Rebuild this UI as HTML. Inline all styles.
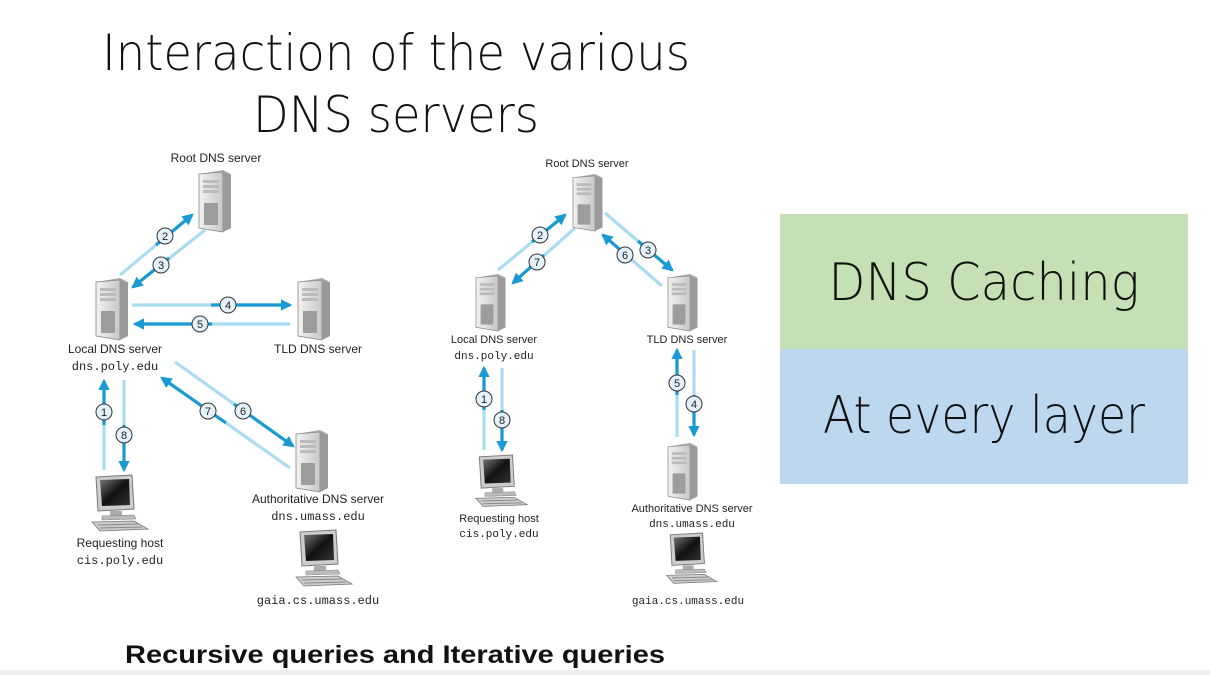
<!DOCTYPE html>
<html><head><meta charset="utf-8"><style>
html,body{margin:0;padding:0;background:#fff;width:1210px;height:675px;overflow:hidden}
svg{display:block}
.lt{font-family:"DejaVu Sans ExtraLight","DejaVu Sans Light","Liberation Sans",sans-serif}
</style></head><body>
<svg width="1210" height="675" viewBox="0 0 1210 675" xmlns="http://www.w3.org/2000/svg" font-family="Liberation Sans, sans-serif">
<defs>
<marker id="ah" viewBox="0 0 10 10" refX="8" refY="5" markerWidth="3.6" markerHeight="3.6" orient="auto" markerUnits="strokeWidth">
<path d="M0,0 L10,5 L0,10 z" fill="#1a9ad3"/></marker>
<linearGradient id="sv" x1="0" x2="1" y1="0" y2="0"><stop offset="0" stop-color="#f2f2f2"/><stop offset="1" stop-color="#c8c8c8"/></linearGradient>
<linearGradient id="scr" x1="0" y1="0" x2="1" y2="1"><stop offset="0" stop-color="#777"/><stop offset="0.5" stop-color="#111"/><stop offset="1" stop-color="#333"/></linearGradient>
<g id="srv">
<polygon points="0,4 24,0 32,4 32,58 24,62 0,58" fill="#aaa"/>
<polygon points="0,4 24,2 24,62 0,58" fill="url(#sv)" stroke="#888" stroke-width="0.8"/>
<polygon points="24,2 32,5 32,58 24,62" fill="#9a9a9a"/>
<rect x="4" y="10" width="16" height="3" fill="#bbb"/><rect x="4" y="15" width="16" height="3" fill="#bbb"/><rect x="4" y="20" width="16" height="3" fill="#bbb"/>
<rect x="5" y="33" width="14" height="22" fill="#9d9d9d"/>
</g>
<g id="pc">
<polygon points="8,2 44,0 46,34 10,36" fill="#ccc" stroke="#777" stroke-width="1"/>
<polygon points="12,5 41,4 42,30 14,31" fill="url(#scr)"/>
<rect x="22" y="36" width="12" height="5" fill="#aaa"/>
<polygon points="14,41 46,40 48,44 14,45" fill="#bbb" stroke="#888" stroke-width=".6"/>
<polygon points="4,47 46,46 60,54 12,56" fill="#ccc" stroke="#777" stroke-width=".8"/>
<line x1="10" y1="50" x2="50" y2="49" stroke="#888"/><line x1="12" y1="53" x2="54" y2="52" stroke="#888"/>
</g>
</defs>

<text class="lt" x="396" y="70" font-size="50" text-anchor="middle" fill="#111" textLength="588" lengthAdjust="spacingAndGlyphs">Interaction of the various</text>
<text class="lt" x="396" y="132" font-size="50" text-anchor="middle" fill="#111" textLength="286" lengthAdjust="spacingAndGlyphs">DNS servers</text>

<g stroke-linecap="butt" fill="none" stroke-width="3.2">
<line x1="120" y1="275" x2="192" y2="215" stroke="#a9dcf0"/><line x1="156" y1="245" x2="192" y2="215" stroke="#1a9ad3" marker-end="url(#ah)"/>
<line x1="205" y1="230" x2="133" y2="287" stroke="#a9dcf0"/><line x1="169" y1="258" x2="133" y2="287" stroke="#1a9ad3" marker-end="url(#ah)"/>
<line x1="132" y1="305" x2="290" y2="305" stroke="#a9dcf0"/><line x1="211" y1="305" x2="290" y2="305" stroke="#1a9ad3" marker-end="url(#ah)"/>
<line x1="290" y1="324" x2="135" y2="324" stroke="#a9dcf0"/><line x1="212" y1="324" x2="135" y2="324" stroke="#1a9ad3" marker-end="url(#ah)"/>
<line x1="175" y1="362" x2="293" y2="446" stroke="#a9dcf0"/><line x1="234" y1="404" x2="293" y2="446" stroke="#1a9ad3" marker-end="url(#ah)"/>
<line x1="290" y1="468" x2="162" y2="378" stroke="#a9dcf0"/><line x1="226" y1="423" x2="162" y2="378" stroke="#1a9ad3" marker-end="url(#ah)"/>
<line x1="104" y1="470" x2="104" y2="381" stroke="#a9dcf0"/><line x1="104" y1="425" x2="104" y2="381" stroke="#1a9ad3" marker-end="url(#ah)"/>
<line x1="124" y1="380" x2="124" y2="470" stroke="#a9dcf0"/><line x1="124" y1="425" x2="124" y2="470" stroke="#1a9ad3" marker-end="url(#ah)"/>
<line x1="498" y1="270" x2="565" y2="215" stroke="#a9dcf0"/><line x1="532" y1="242" x2="565" y2="215" stroke="#1a9ad3" marker-end="url(#ah)"/>
<line x1="575" y1="228" x2="513" y2="283" stroke="#a9dcf0"/><line x1="544" y1="255" x2="513" y2="283" stroke="#1a9ad3" marker-end="url(#ah)"/>
<line x1="605" y1="213" x2="672" y2="270" stroke="#a9dcf0"/><line x1="638" y1="241" x2="672" y2="270" stroke="#1a9ad3" marker-end="url(#ah)"/>
<line x1="662" y1="286" x2="603" y2="235" stroke="#a9dcf0"/><line x1="632" y1="260" x2="603" y2="235" stroke="#1a9ad3" marker-end="url(#ah)"/>
<line x1="484" y1="450" x2="484" y2="368" stroke="#a9dcf0"/><line x1="484" y1="410" x2="484" y2="368" stroke="#1a9ad3" marker-end="url(#ah)"/>
<line x1="502" y1="368" x2="502" y2="450" stroke="#a9dcf0"/><line x1="502" y1="410" x2="502" y2="450" stroke="#1a9ad3" marker-end="url(#ah)"/>
<line x1="677" y1="437" x2="677" y2="350" stroke="#a9dcf0"/><line x1="677" y1="395" x2="677" y2="350" stroke="#1a9ad3" marker-end="url(#ah)"/>
<line x1="694" y1="350" x2="694" y2="435" stroke="#a9dcf0"/><line x1="694" y1="395" x2="694" y2="435" stroke="#1a9ad3" marker-end="url(#ah)"/>
</g>

<g font-size="11" text-anchor="middle" fill="#222">
<g fill="#e3f2fa" stroke="#333" stroke-width="1">
<circle cx="165" cy="236" r="8"/><circle cx="161" cy="265" r="8"/><circle cx="228" cy="305" r="8"/><circle cx="200" cy="324" r="8"/>
<circle cx="208" cy="411" r="8"/><circle cx="243" cy="411" r="8"/><circle cx="104" cy="412" r="8"/><circle cx="124" cy="435" r="8"/>
<circle cx="540" cy="235" r="8"/><circle cx="537" cy="262" r="8"/><circle cx="648" cy="250" r="8"/><circle cx="625" cy="255" r="8"/>
<circle cx="484" cy="399" r="8"/><circle cx="502" cy="420" r="8"/><circle cx="677" cy="383" r="8"/><circle cx="694" cy="404" r="8"/>
</g>
<text x="165" y="240">2</text><text x="161" y="269">3</text><text x="228" y="309">4</text><text x="200" y="328">5</text>
<text x="208" y="415">7</text><text x="243" y="415">6</text><text x="104" y="416">1</text><text x="124" y="439">8</text>
<text x="540" y="239">2</text><text x="537" y="266">7</text><text x="648" y="254">3</text><text x="625" y="259">6</text>
<text x="484" y="403">1</text><text x="502" y="424">8</text><text x="677" y="387">5</text><text x="694" y="408">4</text>
</g>

<use href="#srv" x="199" y="170"/>
<use href="#srv" x="96" y="278"/>
<use href="#srv" x="298" y="278"/>
<use href="#srv" x="296" y="430"/>
<use href="#pc" x="88" y="475"/>
<use href="#pc" x="292" y="530"/>
<use href="#srv" x="573" y="174" transform="translate(573 174) scale(0.92) translate(-573 -174)"/>
<use href="#srv" x="476" y="274" transform="translate(476 274) scale(0.92) translate(-476 -274)"/>
<use href="#srv" x="668" y="274" transform="translate(668 274) scale(0.92) translate(-668 -274)"/>
<use href="#srv" x="668" y="443" transform="translate(668 443) scale(0.92) translate(-668 -443)"/>
<use href="#pc" x="472" y="455" transform="translate(472 455) scale(0.92) translate(-472 -455)"/>
<use href="#pc" x="663" y="533" transform="translate(663 533) scale(0.9) translate(-663 -533)"/>

<g font-size="12" text-anchor="middle" fill="#222">
<text x="216" y="162">Root DNS server</text>
<text x="115" y="353">Local DNS server</text>
<text x="318" y="353">TLD DNS server</text>
<text x="318" y="503">Authoritative DNS server</text>
<text x="120" y="547">Requesting host</text>
<g font-size="11">
<text x="587" y="167">Root DNS server</text>
<text x="494" y="343">Local DNS server</text>
<text x="687" y="343">TLD DNS server</text>
<text x="692" y="512">Authoritative DNS server</text>
<text x="499" y="522">Requesting host</text>
</g>
</g>
<g font-family="Liberation Mono, monospace" text-anchor="middle" fill="#222">
<g font-size="12"><text x="115" y="370">dns.poly.edu</text><text x="318" y="520">dns.umass.edu</text><text x="120" y="564">cis.poly.edu</text><text x="318" y="604">gaia.cs.umass.edu</text></g>
<g font-size="11"><text x="494" y="359">dns.poly.edu</text><text x="692" y="527">dns.umass.edu</text><text x="499" y="537">cis.poly.edu</text><text x="688" y="604">gaia.cs.umass.edu</text></g>
</g>

<rect x="780" y="214" width="408" height="135" fill="#c5e0b4"/>
<rect x="780" y="349" width="408" height="135" fill="#bdd7ee"/>
<text class="lt" x="984" y="300" font-size="52" text-anchor="middle" fill="#111" textLength="311" lengthAdjust="spacingAndGlyphs">DNS Caching</text>
<text class="lt" x="984" y="433" font-size="52" text-anchor="middle" fill="#111" textLength="322" lengthAdjust="spacingAndGlyphs">At every layer</text>

<text x="125" y="663" font-size="25" font-weight="bold" fill="#111" textLength="540" lengthAdjust="spacingAndGlyphs">Recursive queries and Iterative queries</text>
<rect x="0" y="670" width="1210" height="5" fill="#eeeeee"/>
</svg>
</body></html>
